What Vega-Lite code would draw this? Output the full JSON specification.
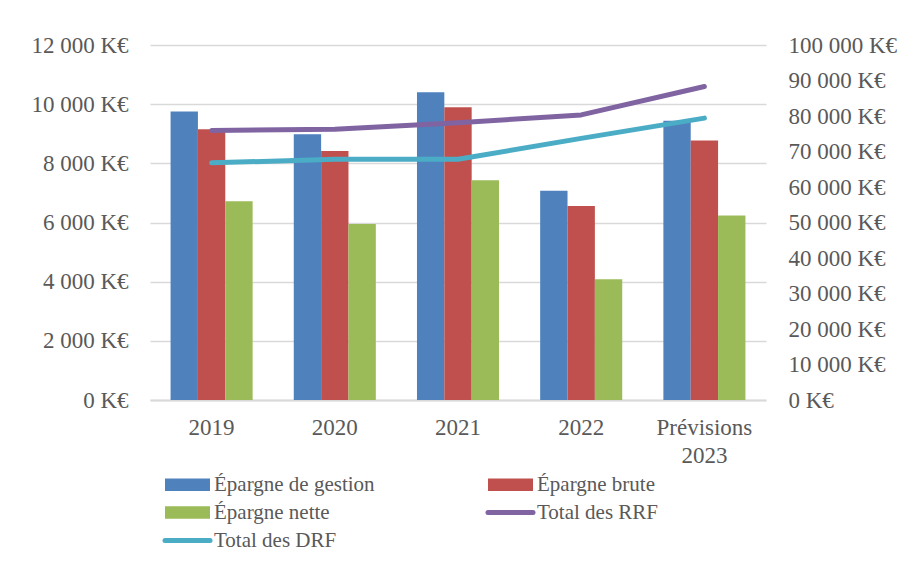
{
  "$schema": "https://vega.github.io/schema/vega-lite/v6.json",
  "width": 616,
  "height": 355,
  "autosize": "none",
  "padding": {"left": 150, "top": 45, "right": 141, "bottom": 174},
  "background": "white",
  "datasets": {
    "barres": [
      {"annee": "2019", "serie": "Épargne de gestion", "valeur": 9750},
      {"annee": "2019", "serie": "Épargne brute", "valeur": 9150},
      {"annee": "2019", "serie": "Épargne nette", "valeur": 6720},
      {"annee": "2020", "serie": "Épargne de gestion", "valeur": 8980},
      {"annee": "2020", "serie": "Épargne brute", "valeur": 8420},
      {"annee": "2020", "serie": "Épargne nette", "valeur": 5950},
      {"annee": "2021", "serie": "Épargne de gestion", "valeur": 10400},
      {"annee": "2021", "serie": "Épargne brute", "valeur": 9900},
      {"annee": "2021", "serie": "Épargne nette", "valeur": 7430},
      {"annee": "2022", "serie": "Épargne de gestion", "valeur": 7070},
      {"annee": "2022", "serie": "Épargne brute", "valeur": 6560},
      {"annee": "2022", "serie": "Épargne nette", "valeur": 4080},
      {"annee": "Prévisions 2023", "serie": "Épargne de gestion", "valeur": 9440},
      {"annee": "Prévisions 2023", "serie": "Épargne brute", "valeur": 8770},
      {"annee": "Prévisions 2023", "serie": "Épargne nette", "valeur": 6240}
    ],
    "lignes": [
      {"annee": "2019", "serie": "Total des RRF", "valeur": 75900},
      {"annee": "2020", "serie": "Total des RRF", "valeur": 76300},
      {"annee": "2021", "serie": "Total des RRF", "valeur": 78100},
      {"annee": "2022", "serie": "Total des RRF", "valeur": 80300},
      {"annee": "Prévisions 2023", "serie": "Total des RRF", "valeur": 88300},
      {"annee": "2019", "serie": "Total des DRF", "valeur": 66800},
      {"annee": "2020", "serie": "Total des DRF", "valeur": 67800},
      {"annee": "2021", "serie": "Total des DRF", "valeur": 67800},
      {"annee": "2022", "serie": "Total des DRF", "valeur": 73700},
      {"annee": "Prévisions 2023", "serie": "Total des DRF", "valeur": 79400}
    ]
  },
  "config": {
    "font": "Liberation Serif",
    "view": {"stroke": null},
    "axis": {
      "labelFont": "Liberation Serif",
      "labelFontSize": 23,
      "labelColor": "#595959",
      "title": null,
      "ticks": false
    }
  },
  "layer": [
    {
      "data": {"name": "barres"},
      "mark": {"type": "bar"},
      "encoding": {
        "x": {
          "field": "annee",
          "type": "nominal",
          "sort": null,
          "scale": {
            "domain": ["2019", "2020", "2021", "2022", "Prévisions 2023"],
            "paddingInner": 0.334,
            "paddingOuter": 0.167
          },
          "axis": {
            "labelAngle": 0,
            "labelPadding": 16,
            "labelBaseline": "top",
            "labelLineHeight": 28,
            "labelExpr": "split(datum.label, ' ')",
            "labelOverlap": false,
            "labelLimit": 300,
            "domainColor": "#d9d9d9",
            "domainWidth": 2,
            "grid": false
          }
        },
        "xOffset": {
          "field": "serie",
          "type": "nominal",
          "scale": {
            "domain": ["Épargne de gestion", "Épargne brute", "Épargne nette"],
            "paddingInner": 0,
            "paddingOuter": 0
          }
        },
        "y": {
          "field": "valeur",
          "type": "quantitative",
          "scale": {"domain": [0, 12000], "nice": false},
          "axis": {
            "values": [0, 2000, 4000, 6000, 8000, 10000, 12000],
            "labelExpr": "replace(format(datum.value, ',d'), ',', ' ') + ' K€'",
            "domain": false,
            "grid": true,
            "gridColor": "#d9d9d9",
            "gridWidth": 1.5,
            "labelPadding": 22
          }
        },
        "color": {
          "field": "serie",
          "type": "nominal",
          "scale": {
            "domain": ["Épargne de gestion", "Épargne brute", "Épargne nette", "Total des RRF", "Total des DRF"],
            "range": ["#4F81BD", "#C0504D", "#9BBB59", "#8064A2", "#4BACC6"]
          },
          "legend": {
            "orient": "none",
            "direction": "horizontal",
            "legendX": 27,
            "legendY": 429,
            "columns": 2,
            "columnPadding": 103,
            "rowPadding": 6,
            "gridAlign": "all",
            "title": null,
            "padding": 0,
            "labelFont": "Liberation Serif",
            "labelFontSize": 21,
            "labelColor": "#595959",
            "labelOffset": 16,
            "labelLimit": 400,
            "symbolSize": 2025,
            "encode": {
              "symbols": {
                "update": {
                  "shape": {"signal": "indexof(['Total des RRF','Total des DRF'], datum.value) >= 0 ? 'stroke' : 'M-1,-0.28H1V0.28H-1Z'"},
                  "fill": {"signal": "indexof(['Total des RRF','Total des DRF'], datum.value) >= 0 ? 'transparent' : scale('color', datum.value)"},
                  "stroke": {"signal": "scale('color', datum.value)"},
                  "strokeWidth": {"signal": "indexof(['Total des RRF','Total des DRF'], datum.value) >= 0 ? 5 : 0"},
                  "strokeCap": {"value": "round"},
                  "opacity": {"value": 1}
                }
              }
            }
          }
        }
      }
    },
    {
      "data": {"name": "lignes"},
      "mark": {"type": "line", "strokeWidth": 5, "strokeCap": "round", "strokeJoin": "round"},
      "encoding": {
        "x": {"field": "annee", "type": "nominal", "sort": null},
        "y": {
          "field": "valeur",
          "type": "quantitative",
          "scale": {"domain": [0, 100000], "nice": false},
          "axis": {
            "orient": "right",
            "values": [0, 10000, 20000, 30000, 40000, 50000, 60000, 70000, 80000, 90000, 100000],
            "labelExpr": "replace(format(datum.value, ',d'), ',', ' ') + ' K€'",
            "domain": false,
            "grid": false,
            "labelPadding": 22
          }
        },
        "color": {"field": "serie", "type": "nominal"}
      }
    }
  ],
  "resolve": {"scale": {"y": "independent"}}
}
